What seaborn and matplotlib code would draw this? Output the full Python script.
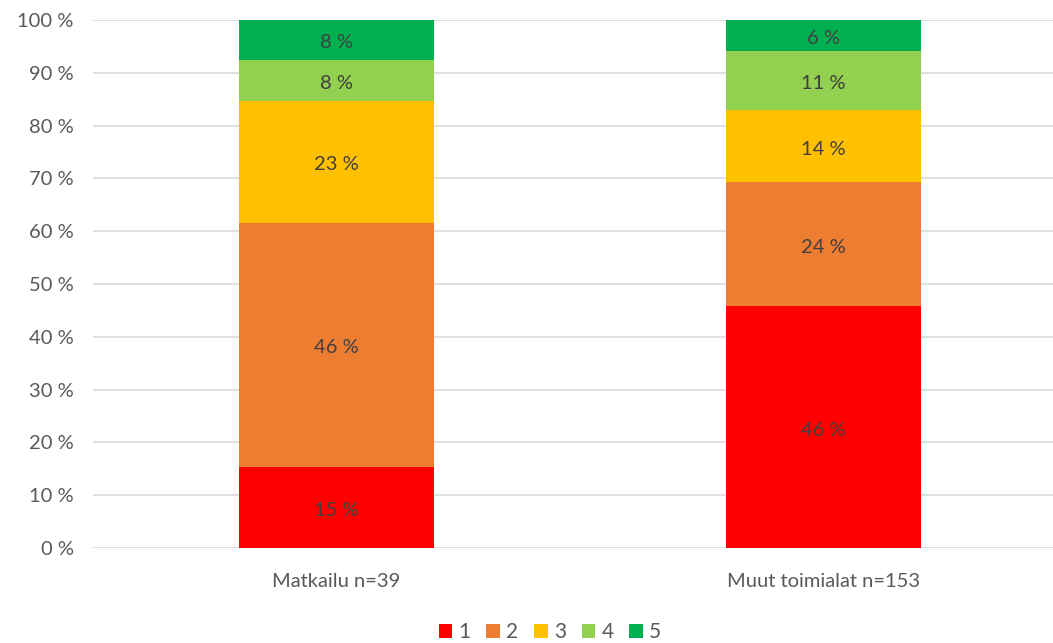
import matplotlib
matplotlib.use("Agg")
import matplotlib.pyplot as plt
import seaborn as sns
import numpy as np
import pandas as pd

# Shares of responses (%) per answer level 1..5
categories = ["Matkailu n=39", "Muut toimialat n=153"]
levels = ["1", "2", "3", "4", "5"]
level_1 = [15.4, 45.8]
level_2 = [46.2, 23.5]
level_3 = [23.1, 13.7]
level_4 = [7.7, 11.1]
level_5 = [7.7, 5.9]
y_ticks = [0, 10, 20, 30, 40, 50, 60, 70, 80, 90, 100]

colors = ["#FF0000", "#ED7D31", "#FFC000", "#92D050", "#00B050"]

sns.set_theme(style="white")
plt.rcParams["font.family"] = ["Lato", "DejaVu Sans"]

fig = plt.figure(figsize=(10.53, 6.43), dpi=100)
ax = fig.add_axes([93 / 1053, 95 / 643, 974 / 1053, 528 / 643])

series = [level_1, level_2, level_3, level_4, level_5]
bottom = np.zeros(len(categories))
for lvl, vals, col in zip(levels, series, colors):
    df = pd.DataFrame({"cat": categories, "val": vals})
    sns.barplot(data=df, x="cat", y="val", color=col, bottom=bottom,
                width=0.4, ax=ax, label=lvl, saturation=1, zorder=3,
                linewidth=0, edgecolor="none")
    for i, v in enumerate(vals):
        ax.text(i, bottom[i] + v / 2 - 0.6, f"{v:.0f} %", ha="center", va="center",
                fontsize=14.5, color="#404040", zorder=4)
    bottom = bottom + np.array(vals)

handles, labels = ax.get_legend_handles_labels()
if ax.get_legend() is not None:
    ax.get_legend().remove()

ax.set_ylim(0, 100)
ax.set_xlim(-0.5, 1.5)
ax.set_yticks(y_ticks)
ax.set_yticklabels([f"{t} %" for t in y_ticks])
ax.yaxis.grid(True, color="#D9D9D9", linewidth=1.2, zorder=0)
ax.set_axisbelow(True)
ax.set_xlabel("")
ax.set_ylabel("")
for s in ax.spines.values():
    s.set_visible(False)
ax.tick_params(axis="both", length=0, labelsize=14.5, labelcolor="#595959")
ax.tick_params(axis="y", pad=14)
ax.tick_params(axis="x", pad=18)

fig.legend(handles, labels, loc="center", bbox_to_anchor=(550 / 1053, 1 - 632 / 643),
           ncol=5, frameon=False, fontsize=15, labelcolor="#595959",
           handlelength=0.65, handleheight=0.65, handletextpad=0.3, columnspacing=0.75)

fig.savefig("out.png", dpi=100)
